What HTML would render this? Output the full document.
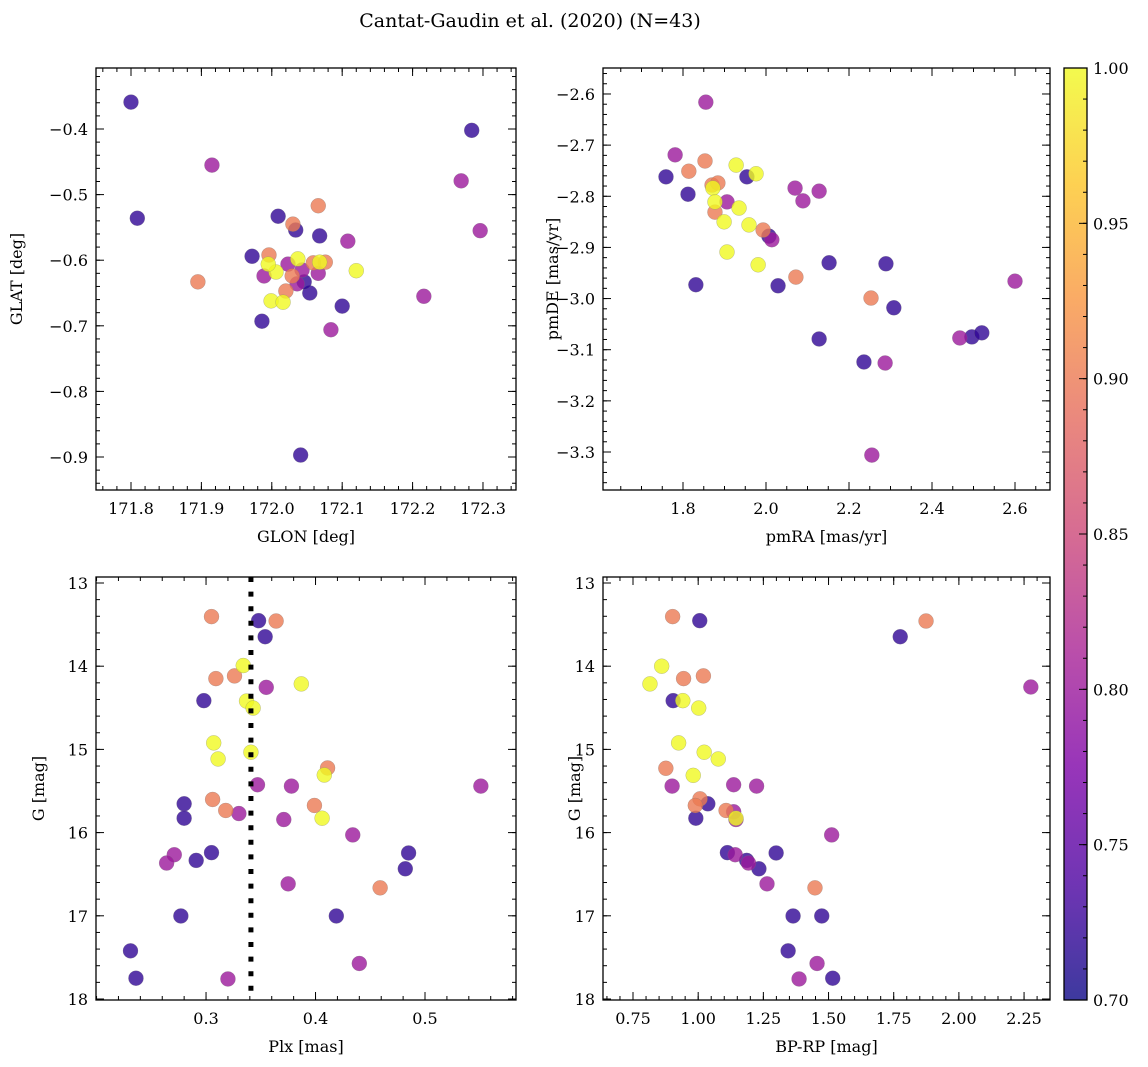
<!DOCTYPE html>
<html><head><meta charset="utf-8">
<style>
html,body{margin:0;padding:0;background:#fff;}
svg{display:block;}
svg text{font-family:"DejaVu Serif","Liberation Serif",serif;}
</style></head>
<body>
<svg id="fig" width="1148" height="1067" viewBox="0 0 1148 1067" xmlns="http://www.w3.org/2000/svg">
<defs>
<linearGradient id="plasma" x1="0" y1="1" x2="0" y2="0">
<stop offset="0" stop-color="#0d0887"/><stop offset="0.125" stop-color="#4c02a1"/><stop offset="0.25" stop-color="#7e03a8"/><stop offset="0.375" stop-color="#a92395"/><stop offset="0.5" stop-color="#cc4778"/><stop offset="0.625" stop-color="#e56b5d"/><stop offset="0.75" stop-color="#f89540"/><stop offset="0.875" stop-color="#fdc527"/><stop offset="1" stop-color="#f0f921"/>
</linearGradient>
</defs>
<text x="530" y="27" font-size="19" text-anchor="middle" font-family="DejaVu Serif, Liberation Serif, serif">Cantat-Gaudin et al. (2020) (N=43)</text>
</svg>
<script>
// ---- Panel 1: GLON vs GLAT ----
const glonVals=[171.800,171.809,172.284,171.972,172.009,172.034,171.986,172.068,172.054,172.100,172.041,172.046,
171.915,172.269,172.296,172.108,172.216,172.084,171.989,172.023,172.043,172.066,172.036,
171.895,172.066,172.030,171.996,172.020,172.029,172.076,172.059,
172.120,171.999,172.016,172.006,171.995,172.037,172.068];
const glatVals=[-0.359,-0.536,-0.402,-0.594,-0.533,-0.554,-0.693,-0.563,-0.650,-0.670,-0.897,-0.633,
-0.455,-0.479,-0.555,-0.571,-0.655,-0.706,-0.624,-0.606,-0.615,-0.620,-0.636,
-0.633,-0.517,-0.545,-0.592,-0.647,-0.624,-0.603,-0.604,
-0.616,-0.662,-0.664,-0.618,-0.606,-0.598,-0.603];
const probP1=[0.72,0.72,0.72,0.72,0.72,0.72,0.72,0.72,0.72,0.72,0.72,0.72,
0.80,0.80,0.80,0.80,0.80,0.80,0.80,0.80,0.80,0.80,0.80,
0.90,0.90,0.90,0.90,0.90,0.90,0.90,0.90,
1.0,1.0,1.0,1.0,1.0,1.0,1.0];
// ---- Panel 2: pmRA vs pmDE ----
const pmraVals=[1.759,1.812,1.954,1.831,2.007,2.029,2.152,2.289,2.128,2.236,2.308,2.496,2.520,
1.855,1.781,2.070,2.089,2.128,1.906,2.014,2.600,2.467,2.287,2.255,
1.814,1.853,1.870,1.884,1.877,1.993,2.072,2.253,
1.928,1.976,1.872,1.877,1.899,1.935,1.959,1.906,1.981];
const pmdeVals=[-2.762,-2.796,-2.762,-2.973,-2.878,-2.975,-2.930,-2.932,-3.079,-3.124,-3.018,-3.075,-3.067,
-2.616,-2.719,-2.784,-2.809,-2.790,-2.811,-2.885,-2.966,-3.077,-3.126,-3.306,
-2.751,-2.731,-2.778,-2.774,-2.831,-2.866,-2.958,-2.999,
-2.739,-2.756,-2.784,-2.811,-2.850,-2.823,-2.856,-2.909,-2.934];
const probP2=[0.72,0.72,0.72,0.72,0.72,0.72,0.72,0.72,0.72,0.72,0.72,0.72,0.72,
0.80,0.80,0.80,0.80,0.80,0.80,0.80,0.80,0.80,0.80,0.80,
0.90,0.90,0.90,0.90,0.90,0.90,0.90,0.90,
1.0,1.0,1.0,1.0,1.0,1.0,1.0,1.0,1.0];
// ---- Panel 3: Plx vs G ----
const plxVals=[0.348,0.354,0.298,0.280,0.280,0.305,0.291,0.485,0.482,0.277,0.419,0.231,0.236,
0.355,0.347,0.378,0.551,0.330,0.371,0.434,0.271,0.264,0.375,0.440,0.320,
0.305,0.364,0.309,0.326,0.411,0.306,0.318,0.399,0.459,
0.334,0.387,0.337,0.343,0.307,0.311,0.341,0.408,0.406];
const gVals3=[13.453,13.646,14.414,15.654,15.827,16.241,16.334,16.245,16.435,17.002,17.002,17.421,17.750,
14.254,15.425,15.441,15.441,15.771,15.843,16.028,16.266,16.366,16.616,17.573,17.759,
13.404,13.457,14.149,14.117,15.223,15.602,15.734,15.674,16.664,
13.992,14.213,14.419,14.503,14.922,15.115,15.034,15.308,15.827];
const probP3=[0.72,0.72,0.72,0.72,0.72,0.72,0.72,0.72,0.72,0.72,0.72,0.72,0.72,
0.80,0.80,0.80,0.80,0.80,0.80,0.80,0.80,0.80,0.80,0.80,0.80,
0.90,0.90,0.90,0.90,0.90,0.90,0.90,0.90,0.90,
1.0,1.0,1.0,1.0,1.0,1.0,1.0,1.0,1.0];
const plxLine=[0.341];
// ---- Panel 4: BP-RP vs G ----
const bprpVals=[1.006,1.775,0.904,1.037,0.991,1.112,1.299,1.186,1.233,1.364,1.474,1.345,1.516,
2.276,1.136,1.224,0.900,1.136,1.145,1.512,1.142,1.193,1.264,1.456,1.387,
0.902,1.874,0.944,1.020,0.876,1.007,0.989,1.107,1.448,
0.860,0.815,0.941,1.002,0.925,1.023,1.077,0.981,1.145];
const gVals4=[13.453,13.646,14.414,15.654,15.827,16.241,16.245,16.334,16.435,17.002,17.002,17.421,17.750,
14.250,15.425,15.441,15.441,15.750,15.843,16.028,16.266,16.366,16.616,17.573,17.759,
13.404,13.457,14.149,14.117,15.227,15.594,15.674,15.734,16.664,
14.000,14.213,14.414,14.503,14.922,15.034,15.115,15.312,15.827];
const probP4=[0.72,0.72,0.72,0.72,0.72,0.72,0.72,0.72,0.72,0.72,0.72,0.72,0.72,
0.80,0.80,0.80,0.80,0.80,0.80,0.80,0.80,0.80,0.80,0.80,0.80,
0.90,0.90,0.90,0.90,0.90,0.90,0.90,0.90,0.90,
1.0,1.0,1.0,1.0,1.0,1.0,1.0,1.0,1.0];
// tick labels
const p1XTicks=[171.8,171.9,172.0,172.1,172.2,172.3];
const p1YTicks=[-0.4,-0.5,-0.6,-0.7,-0.8,-0.9];
const p2XTicks=[1.8,2.0,2.2,2.4,2.6];
const p2YTicks=[-2.6,-2.7,-2.8,-2.9,-3.0,-3.1,-3.2,-3.3];
const p3XTicks=[0.3,0.4,0.5];
const gTicks=[13,14,15,16,17,18];
const p4XTicks=[0.75,1.00,1.25,1.50,1.75,2.00,2.25];
const cbTicks=[0.70,0.75,0.80,0.85,0.90,0.95,1.00];

const NS="http://www.w3.org/2000/svg";
const FONT="DejaVu Serif, Liberation Serif, serif";
const svg=document.getElementById('fig');
function mk(tag,attrs,parent){const e=document.createElementNS(NS,tag);for(const k in attrs)e.setAttribute(k,attrs[k]);if(tag==='text')e.setAttribute('font-family',FONT);(parent||svg).appendChild(e);return e;}
const stops=[[0,[13,8,135]],[0.125,[76,2,161]],[0.25,[126,3,168]],[0.375,[169,35,149]],[0.5,[204,71,120]],[0.625,[229,107,93]],[0.75,[248,149,64]],[0.875,[253,197,39]],[1,[240,249,33]]];
function plasma(t){t=Math.max(0,Math.min(1,t));for(let i=1;i<stops.length;i++){if(t<=stops[i][0]){const a=stops[i-1],b=stops[i];const f=(t-a[0])/(b[0]-a[0]);const c=a[1].map((v,j)=>Math.round(v+(b[1][j]-v)*f));return 'rgb('+c.join(',')+')';}}return 'rgb(240,249,33)';}
function fmt(v,d){const s=Math.abs(v).toFixed(d);return (v<0?'\u2212':'')+s;}

function panel(o){
  const g=mk('g',{});
  
  
  const sx=v=>o.x0+(v-o.xmin)/(o.xmax-o.xmin)*(o.x1-o.x0);
  const sy=v=>o.y0+(v-o.ymax)/(o.ymin-o.ymax)*(o.y1-o.y0);
  for(let i=0;i<o.xs.length;i++){
    const c=mk('circle',{cx:sx(o.xs[i]),cy:sy(o.ys[i]),r:7.5,fill:plasma((o.ps[i]-0.7)/0.3),'fill-opacity':0.8,stroke:'#777','stroke-width':0.4,'stroke-opacity':0.6},g);
    
    
  }
  if(o.vline){for(const v of o.vline){const l=mk('line',{x1:sx(v),x2:sx(v),y1:o.y0,y2:o.y1,stroke:'#000','stroke-width':5,'stroke-dasharray':'5 9.6'},g);
    
    }}
  const fr=mk('rect',{x:o.x0,y:o.y0,width:o.x1-o.x0,height:o.y1-o.y0,fill:'none',stroke:'#000','stroke-width':1.3},g);
  
  
  const tk=mk('g',{stroke:'#000','stroke-width':1},g);
  
  
  const eps=1e-9;
  const lo=Math.min(o.xmin,o.xmax),hi=Math.max(o.xmin,o.xmax);
  for(let v=Math.ceil(lo/o.xminor-eps)*o.xminor;v<=hi+eps;v+=o.xminor){const X=sx(v);mk('line',{x1:X,x2:X,y1:o.y1,y2:o.y1-4},tk);mk('line',{x1:X,x2:X,y1:o.y0,y2:o.y0+4},tk);}
  const ylo=Math.min(o.ymin,o.ymax),yhi=Math.max(o.ymin,o.ymax);
  for(let v=Math.ceil(ylo/o.yminor-eps)*o.yminor;v<=yhi+eps;v+=o.yminor){const Y=sy(v);mk('line',{x1:o.x0,x2:o.x0+4,y1:Y,y2:Y},tk);mk('line',{x1:o.x1,x2:o.x1-4,y1:Y,y2:Y},tk);}
  for(const v of o.xt){const X=sx(v);mk('line',{x1:X,x2:X,y1:o.y1,y2:o.y1-8},tk);mk('line',{x1:X,x2:X,y1:o.y0,y2:o.y0+8},tk);
    const t=mk('text',{x:X,y:o.y1+24,'font-size':16,'text-anchor':'middle'},g);t.textContent=fmt(v,o.xd);
    
    }
  for(const v of o.yt){const Y=sy(v);mk('line',{x1:o.x0,x2:o.x0+8,y1:Y,y2:Y},tk);mk('line',{x1:o.x1,x2:o.x1-8,y1:Y,y2:Y},tk);
    const t=mk('text',{x:o.x0-8,y:Y+6,'font-size':16,'text-anchor':'end'},g);t.textContent=fmt(v,o.yd);
    
    }
  const xl=mk('text',{x:(o.x0+o.x1)/2,y:o.y1+52,'font-size':16,'text-anchor':'middle'},g);xl.textContent=o.xlab;
  
  
  const yx=o.ylx,yy=(o.y0+o.y1)/2;
  const yl=mk('text',{x:yx,y:yy,'font-size':16,'text-anchor':'middle',transform:'rotate(-90 '+yx+' '+yy+')'},g);yl.textContent=o.ylab;
  
  
}
panel({name:'glon-glat-panel',x0:96,x1:516,y0:68,y1:490,xmin:171.7503,xmax:172.3469,ymin:-0.9503,ymax:-0.307,xs:glonVals,ys:glatVals,ps:probP1,xt:p1XTicks,yt:p1YTicks,xd:1,yd:1,xminor:0.02,yminor:0.02,xlab:'GLON [deg]',ylab:'GLAT [deg]',ylx:22});
panel({name:'proper-motion-panel',x0:603,x1:1050,y0:68,y1:490,xmin:1.6072,xmax:2.6843,ymin:-3.3743,ymax:-2.5492,xs:pmraVals,ys:pmdeVals,ps:probP2,xt:p2XTicks,yt:p2YTicks,xd:1,yd:1,xminor:0.05,yminor:0.02,xlab:'pmRA [mas/yr]',ylab:'pmDE [mas/yr]',ylx:558});
panel({name:'parallax-magnitude-panel',x0:96,x1:516,y0:577,y1:1000,xmin:0.1995,xmax:0.5831,ymin:18.012,ymax:12.928,xs:plxVals,ys:gVals3,ps:probP3,xt:p3XTicks,yt:gTicks,xd:1,yd:0,xminor:0.02,yminor:0.2,xlab:'Plx [mas]',ylab:'G [mag]',ylx:44,vline:plxLine});
panel({name:'color-magnitude-panel',x0:603,x1:1050,y0:577,y1:1000,xmin:0.6349,xmax:2.3495,ymin:18.012,ymax:12.928,xs:bprpVals,ys:gVals4,ps:probP4,xt:p4XTicks,yt:gTicks,xd:2,yd:0,xminor:0.05,yminor:0.2,xlab:'BP-RP [mag]',ylab:'G [mag]',ylx:580});

const cb=mk('g',{});


mk('rect',{x:1064,y:68,width:23,height:932,fill:'url(#plasma)','fill-opacity':0.8},cb);
mk('rect',{x:1064,y:68,width:23,height:932,fill:'none',stroke:'#000','stroke-width':1.3},cb);
const cy=v=>1000-(v-0.7)/0.3*932;
for(let k=0;k<=30;k++){const v=0.7+k*0.01;const Y=cy(v);mk('line',{x1:1087,x2:1083,y1:Y,y2:Y,stroke:'#000'},cb);}
for(const v of cbTicks){const Y=cy(v);mk('line',{x1:1087,x2:1079,y1:Y,y2:Y,stroke:'#000'},cb);
  const t=mk('text',{x:1093,y:Y+6,'font-size':16},cb);t.textContent=v.toFixed(2);
  
  }
</script>
</body></html>
